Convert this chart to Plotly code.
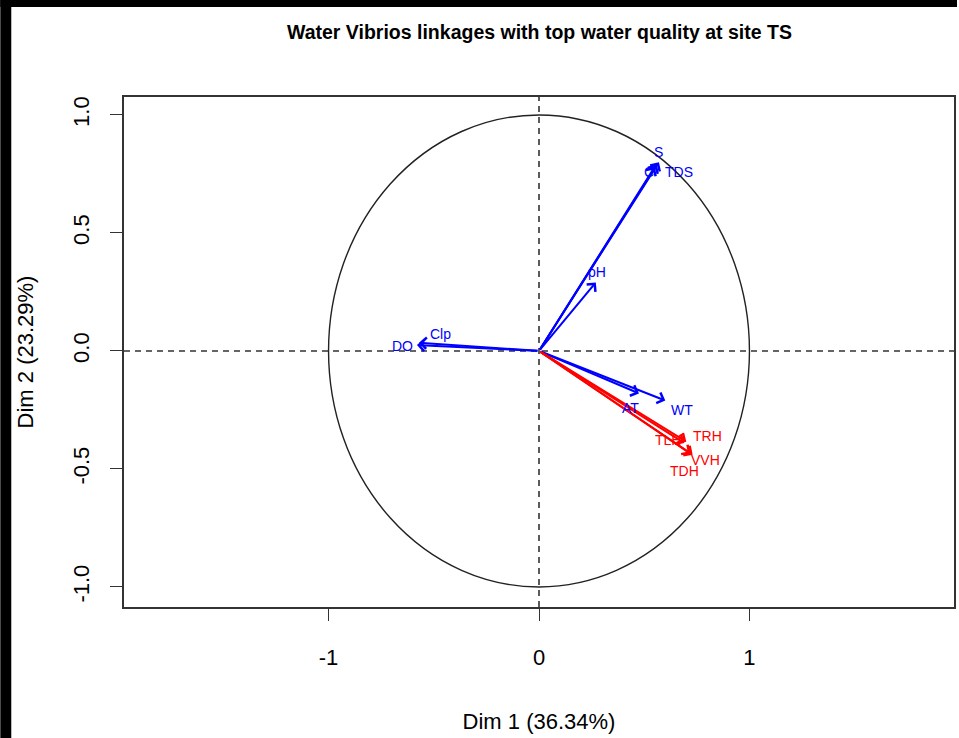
import plotly.graph_objects as go

# ---- data (PCA variable coordinates) ----
var_names = ["S", "C", "TDS", "pH", "Clp", "DO", "AT", "WT", "TRH", "TLH", "VVH", "TDH"]
dim1 = [0.57, 0.55, 0.56, 0.27, -0.57, -0.58, 0.475, 0.60, 0.70, 0.69, 0.73, 0.72]
dim2 = [0.80, 0.78, 0.79, 0.29, 0.035, 0.025, -0.18, -0.21, -0.385, -0.39, -0.44, -0.435]
var_group = ["wq", "wq", "wq", "wq", "wq", "wq", "wq", "wq", "vib", "vib", "vib", "vib"]
label_x = [0.569, 0.521, 0.664, 0.275, -0.469, -0.649, 0.436, 0.678, 0.80, 0.611, 0.79, 0.69]
label_y = [0.843, 0.758, 0.758, 0.335, 0.072, 0.021, -0.242, -0.25, -0.36, -0.377, -0.462, -0.51]

title_text = "Water Vibrios linkages with top water quality at site TS"
x_title = "Dim 1 (36.34%)"
y_title = "Dim 2 (23.29%)"
x_ticks = [-1, 0, 1]
y_ticks = [-1.0, -0.5, 0.0, 0.5, 1.0]
y_ticktext = ["-1.0", "-0.5", "0.0", "0.5", "1.0"]

colors = {"wq": "#0000FF", "vib": "#FF0000"}

XR = [-1.972, 1.972]
YR = [-1.085, 1.076]

fig = go.Figure()
# invisible trace to set up axes
fig.add_trace(go.Scatter(x=[XR[0], XR[1]], y=[YR[0], YR[1]], mode="markers",
                         marker=dict(opacity=0), hoverinfo="skip", showlegend=False))

annotations = []
for name, x, y, g in zip(var_names, dim1, dim2, var_group):
    annotations.append(dict(
        x=x, y=y, ax=0, ay=0, xref="x", yref="y", axref="x", ayref="y",
        showarrow=True, arrowhead=4, arrowsize=1.1, arrowwidth=2,
        arrowcolor=colors[g], text="", standoff=0,
    ))
for name, lx, ly, g in zip(var_names, label_x, label_y, var_group):
    annotations.append(dict(
        x=lx, y=ly, xref="x", yref="y", text=name, showarrow=False,
        font=dict(family="Liberation Sans, Arial", size=14, color=colors[g]),
    ))

annotations.append(dict(
    x=0.5, y=1.0, xref="paper", yref="paper", yshift=65, text="<b>" + title_text + "</b>",
    showarrow=False, xanchor="center", yanchor="middle",
    font=dict(family="Liberation Sans, Arial", size=19.5, color="black"),
))

shapes = [
    dict(type="circle", xref="x", yref="y", x0=-1, x1=1, y0=-1, y1=1,
         line=dict(color="#222222", width=1.4)),
    dict(type="line", xref="paper", yref="y", x0=0, x1=1, y0=0, y1=0,
         line=dict(color="#333333", width=1.6, dash="6px,5px")),
    dict(type="line", xref="x", yref="paper", x0=0, x1=0, y0=0, y1=1,
         line=dict(color="#333333", width=1.6, dash="6px,5px")),
    # black frame of the original image (left and top)
    dict(type="rect", xref="paper", yref="paper", x0=-124 / 832, x1=-113 / 832,
         y0=-131 / 510, y1=1 + 97 / 510, fillcolor="black", line=dict(width=0), layer="above"),
    dict(type="rect", xref="paper", yref="paper", x0=-124 / 832, x1=1 + 3 / 832,
         y0=1 + 90 / 510, y1=1 + 97 / 510, fillcolor="black", line=dict(width=0), layer="above"),
]

fig.update_layout(
    width=959, height=738,
    margin=dict(l=124, r=3, t=97, b=131),
    paper_bgcolor="white", plot_bgcolor="white",
    showlegend=False,
    annotations=annotations,
    shapes=shapes,
    font=dict(family="Liberation Sans, Arial", color="black"),
    xaxis=dict(range=XR, tickvals=x_ticks, ticktext=[str(v) for v in x_ticks],
               showgrid=False, zeroline=False, showline=True, mirror=True,
               linecolor="#333333", linewidth=1.5, ticks="outside", ticklen=12,
               tickcolor="#333333", tickwidth=1.3, ticklabelstandoff=18,
               tickfont=dict(size=22),
               title=dict(text=x_title, font=dict(size=22), standoff=44)),
    yaxis=dict(range=YR, tickvals=y_ticks, ticktext=y_ticktext,
               showgrid=False, zeroline=False, showline=True, mirror=True,
               linecolor="#333333", linewidth=1.5, ticks="outside", ticklen=12,
               tickcolor="#333333", tickwidth=1.3, tickangle=-90, ticklabelstandoff=12,
               tickfont=dict(size=22),
               title=dict(text=y_title, font=dict(size=22), standoff=30)),
)

fig.write_html("out.html",
               config={"displayModeBar": False},
               post_script="document.body.style.margin='0px';"
                           "document.body.style.overflow='hidden';")
